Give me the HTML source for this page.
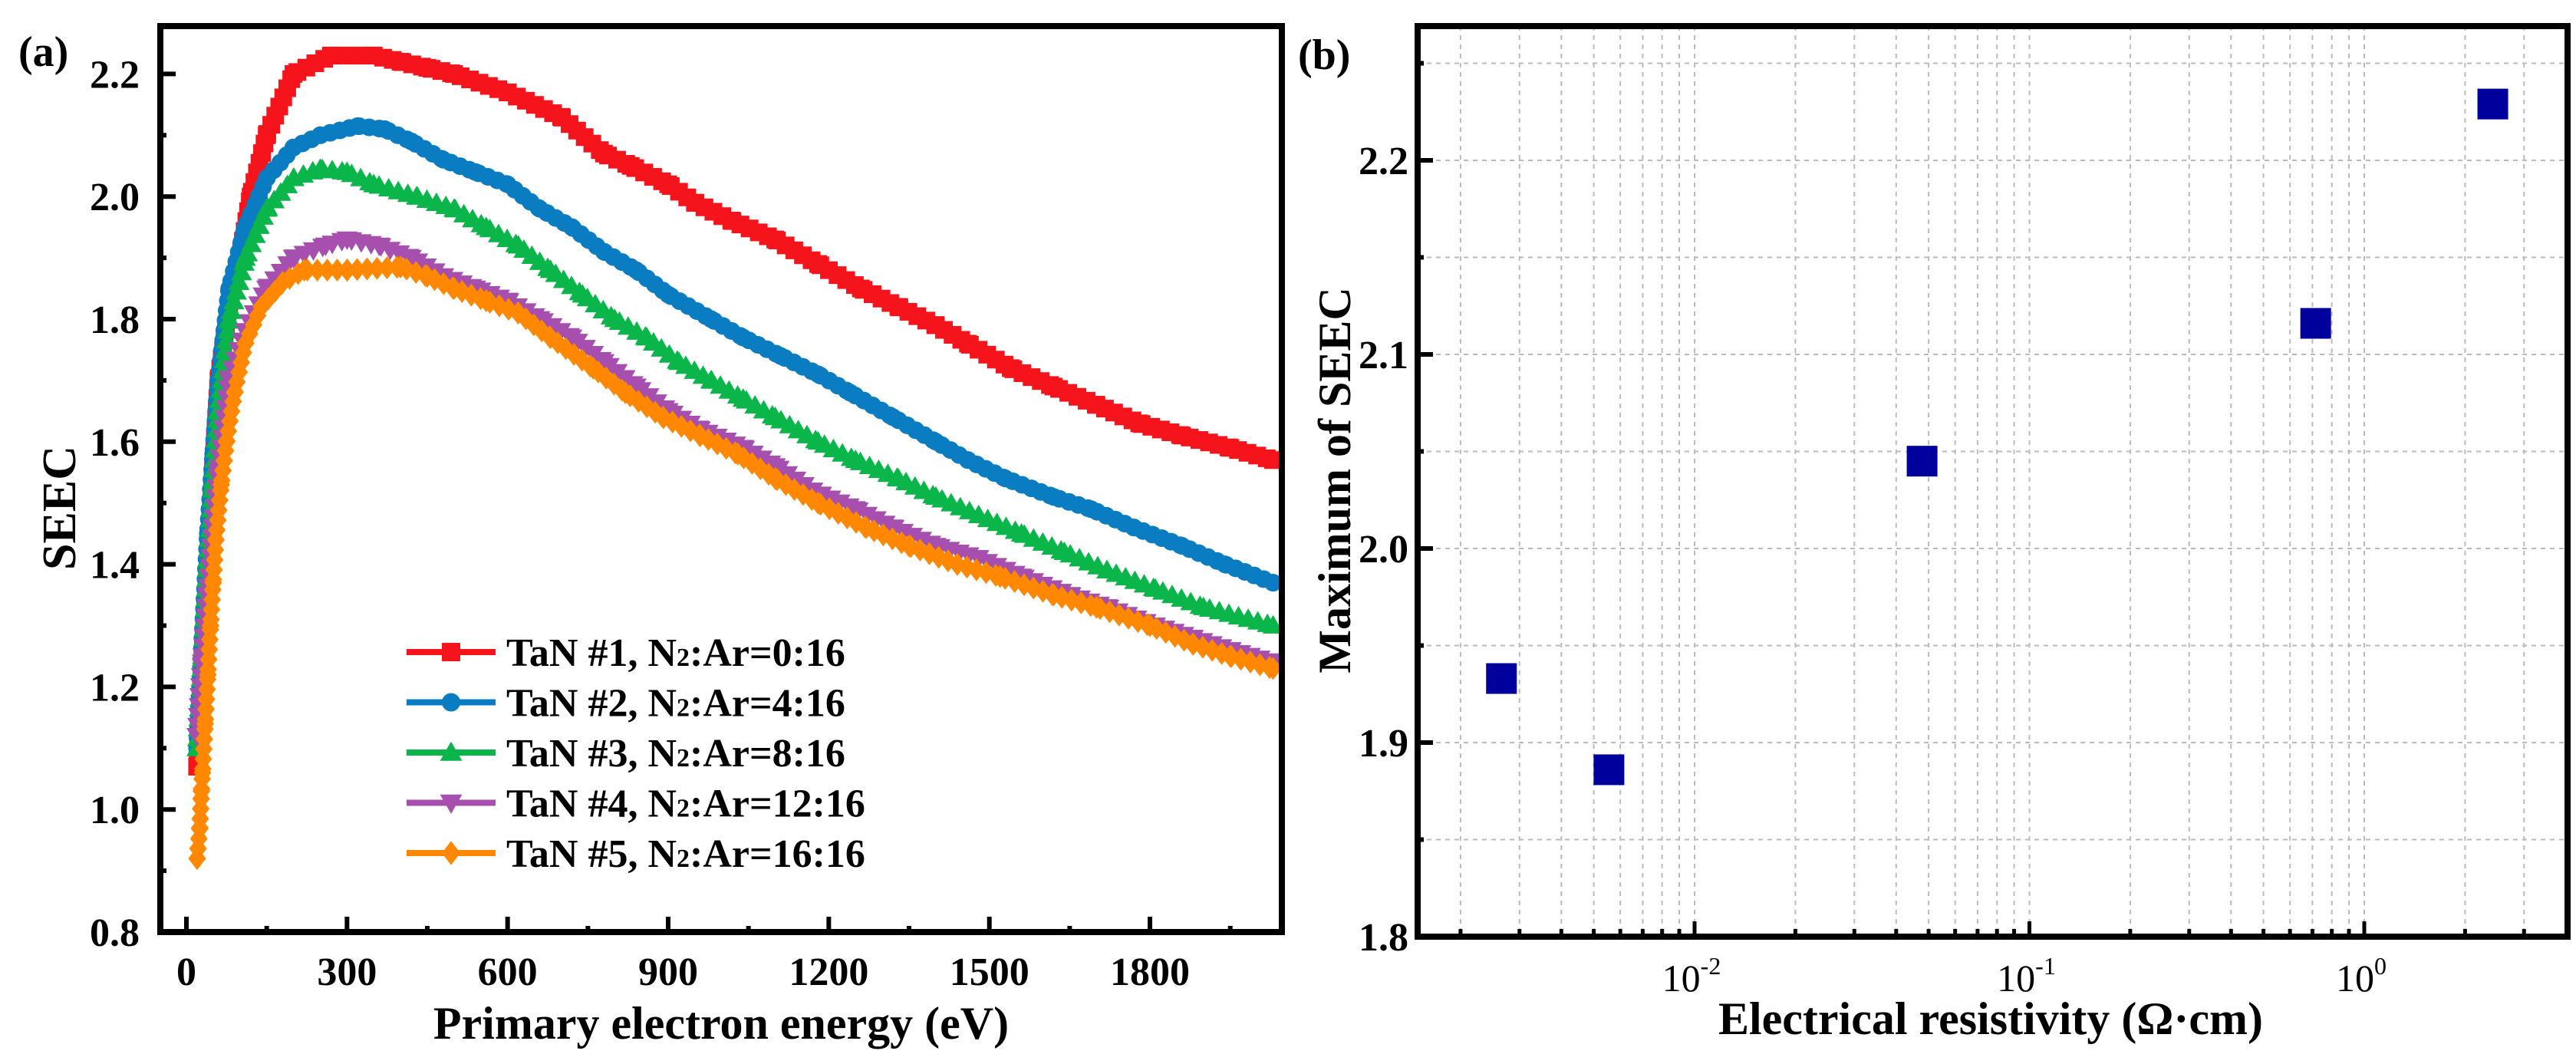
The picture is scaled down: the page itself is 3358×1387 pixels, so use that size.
<!DOCTYPE html>
<html><head><meta charset="utf-8">
<style>
html,body{margin:0;padding:0;background:#fff;}
svg{display:block;font-family:"Liberation Serif",serif;font-weight:bold;}
</style></head>
<body>
<svg id="fig" width="3358" height="1387" viewBox="0 0 3358 1387" xmlns="http://www.w3.org/2000/svg">
<g id="pa"></g>
<g id="pb"></g>
</svg>
<script>
// ---------- Panel (a) data ----------
const energyRed = [20,30,40,50,60,80,100,120,150,200,270,350,400,450,500,600,700,780,830,900,950,1020,1100,1180,1260,1330,1400,1460,1540,1620,1700,1780,1860,1950,2030];
const seecRed   = [1.07,1.25,1.4,1.56,1.7,1.82,1.9,2.0,2.1,2.2,2.23,2.23,2.22,2.21,2.2,2.17,2.13,2.07,2.05,2.02,1.99,1.96,1.93,1.89,1.85,1.82,1.79,1.76,1.72,1.69,1.66,1.63,1.61,1.59,1.57];
const energyBlue = [20,30,40,50,60,80,110,150,200,250,320,370,420,480,540,600,660,720,780,840,900,980,1040,1110,1180,1240,1320,1400,1460,1530,1620,1690,1770,1860,1940,2030];
const seecBlue   = [1.1,1.28,1.45,1.58,1.7,1.85,1.95,2.03,2.08,2.1,2.115,2.11,2.09,2.06,2.04,2.02,1.98,1.95,1.91,1.88,1.84,1.8,1.77,1.74,1.71,1.68,1.64,1.6,1.57,1.54,1.51,1.49,1.46,1.43,1.4,1.37];
const energyGreen = [20,30,40,50,60,80,110,150,200,250,300,350,430,500,560,620,680,740,800,860,920,980,1040,1100,1180,1250,1330,1400,1480,1560,1640,1720,1810,1900,2030];
const seecGreen   = [1.1,1.25,1.4,1.53,1.65,1.8,1.9,1.98,2.03,2.045,2.04,2.02,2.0,1.98,1.95,1.92,1.88,1.84,1.8,1.77,1.73,1.7,1.67,1.64,1.6,1.57,1.54,1.51,1.48,1.45,1.42,1.39,1.36,1.33,1.3];
const energyPurple = [20,30,40,50,60,80,110,150,200,260,300,360,420,480,540,600,660,720,780,840,900,960,1040,1100,1170,1250,1320,1400,1480,1560,1650,1720,1810,1880,1950,2030];
const seecPurple   = [1.12,1.24,1.35,1.46,1.55,1.7,1.78,1.85,1.9,1.92,1.93,1.92,1.9,1.87,1.85,1.83,1.8,1.77,1.73,1.69,1.65,1.62,1.59,1.56,1.52,1.49,1.46,1.43,1.41,1.38,1.35,1.33,1.3,1.28,1.26,1.24];
const energyOrange = [20,25,28,30,35,40,45,50,55,65,75,90,110,140,180,220,300,400,450,500,560,620,680,760,820,890,960,1030,1100,1180,1270,1350,1440,1520,1620,1700,1800,1880,1950,2030];
const seecOrange   = [0.92,0.97,1.03,1.06,1.14,1.22,1.3,1.37,1.44,1.53,1.6,1.68,1.76,1.82,1.86,1.88,1.88,1.885,1.87,1.85,1.83,1.81,1.77,1.72,1.68,1.64,1.61,1.58,1.54,1.5,1.46,1.43,1.4,1.38,1.35,1.33,1.3,1.27,1.25,1.23];
const seriesNames = ["TaN #1, N","TaN #2, N","TaN #3, N","TaN #4, N","TaN #5, N"];
const seriesRatios = ["0:16","4:16","8:16","12:16","16:16"];
const xTicksA = [0,300,600,900,1200,1500,1800];
const yTicksA = [0.8,1.0,1.2,1.4,1.6,1.8,2.0,2.2];

// ---------- Panel (b) data ----------
const resistivity = [0.00265,0.00555,0.0478,0.716,2.42];
const maxSeec     = [1.933,1.886,2.045,2.116,2.229];
const yTicksB = [1.8,1.9,2.0,2.1,2.2];
const xDecadesB = [-2,-1,0];

const NS="http://www.w3.org/2000/svg";
function mk(parent,tag,attrs){const e=document.createElementNS(NS,tag);for(const k in attrs)e.setAttribute(k,attrs[k]);parent.appendChild(e);return e;}

const A={l:209,r:1671,t:34,b:1215};
const xA=v=>243+v*0.6978;
const yA=v=>1215-(v-0.8)*799;
const pa=document.getElementById('pa');

const colors=["#f5141c","#0a7dc2","#0ab54a","#a64fae","#ff8800"];
const xs=[energyRed,energyBlue,energyGreen,energyPurple,energyOrange];
const ys=[seecRed,seecBlue,seecGreen,seecPurple,seecOrange];
const shapes=["square","circle","up","down","diamond"];

function marker(g,shape,cx,cy,s,color){
  let e;
  if(shape==="square") e=mk(g,'rect',{x:cx-s/2,y:cy-s/2,width:s,height:s,fill:color});
  else if(shape==="circle") e=mk(g,'circle',{cx:cx,cy:cy,r:s/2,fill:color});
  else if(shape==="up") e=mk(g,'polygon',{points:`${cx},${cy-s*0.6} ${cx-s*0.6},${cy+s*0.45} ${cx+s*0.6},${cy+s*0.45}`,fill:color});
  else if(shape==="down") e=mk(g,'polygon',{points:`${cx},${cy+s*0.6} ${cx-s*0.6},${cy-s*0.45} ${cx+s*0.6},${cy-s*0.45}`,fill:color});
  else e=mk(g,'polygon',{points:`${cx},${cy-s*0.65} ${cx+s*0.5},${cy} ${cx},${cy+s*0.65} ${cx-s*0.5},${cy}`,fill:color});
  return e;
}

const clipA=mk(mk(pa,'defs',{}),'clipPath',{id:'clipA'});
mk(clipA,'rect',{x:A.l,y:A.t,width:A.r-A.l,height:A.b-A.t});
const plotA=mk(pa,'g',{'clip-path':'url(#clipA)'});



for(let s=0;s<5;s++){
  const g=mk(plotA,'g',{});
  
  
  const pts=xs[s].map((v,i)=>[xA(v),yA(ys[s][i])]);
  const line=mk(g,'polyline',{points:pts.map(p=>p.join(',')).join(' '),fill:'none',stroke:colors[s],'stroke-width':6,'stroke-linejoin':'round'});
  
  
  const len=line.getTotalLength();
  for(let d=0;d<=len;d+=13){
    const p=line.getPointAtLength(d);
    const m=marker(g,shapes[s],p.x,p.y,23,colors[s]);
    
    
  }
  pts.forEach(p=>{
    const m=marker(g,shapes[s],p[0],p[1],23,colors[s]);
    
    
  });
}

const frA=mk(pa,'rect',{x:A.l,y:A.t,width:A.r-A.l,height:A.b-A.t,fill:'none',stroke:'#000','stroke-width':8});


for(let v=0;v<=1950;v+=150){
  const major=xTicksA.includes(v);
  const t=mk(pa,'line',{x1:xA(v),x2:xA(v),y1:A.b,y2:A.b-(major?20:8),stroke:'#000','stroke-width':6});
  
  
}
xTicksA.forEach(v=>{
  const t=mk(pa,'text',{x:xA(v),y:1284,'text-anchor':'middle','font-size':52});
  t.textContent=v;
  
  
});
for(let k=0;k<=14;k++){
  const v=0.8+k*0.1;
  const major=k%2===0;
  const t=mk(pa,'line',{x1:A.l,x2:A.l+(major?20:8),y1:yA(v),y2:yA(v),stroke:'#000','stroke-width':6});
  
  
}
yTicksA.forEach(v=>{
  const t=mk(pa,'text',{x:182,y:yA(v)+18,'text-anchor':'end','font-size':52});
  t.textContent=v.toFixed(1);
  
  
});
let tt=mk(pa,'text',{x:940,y:1354,'text-anchor':'middle','font-size':60});
tt.textContent='Primary electron energy (eV)';


tt=mk(pa,'text',{x:0,y:0,'text-anchor':'middle','font-size':62,transform:'translate(98,662) rotate(-90)'});
tt.textContent='SEEC';


tt=mk(pa,'text',{x:24,y:86,'font-size':56});
tt.textContent='(a)';



const lg=mk(pa,'g',{});


for(let s=0;s<5;s++){
  const y=850+s*65.5;
  const e=mk(lg,'g',{});
  
  
  mk(e,'line',{x1:530,x2:646,y1:y,y2:y,stroke:colors[s],'stroke-width':8});
  marker(e,shapes[s],588,y,24,colors[s]);
  const t=mk(e,'text',{x:660,y:y+18,'font-size':52});
  t.appendChild(document.createTextNode(seriesNames[s]));
  const sub=mk(t,'tspan',{'font-size':34});
  sub.textContent='2';
  t.appendChild(document.createTextNode(':Ar='+seriesRatios[s]));
}

const B={l:1848,r:3347,t:34,b:1221};
const xB=v=>2209+(Math.log10(v)+2)*436.5;
const yB=v=>1221-(v-1.8)*2530;
const pb=document.getElementById('pb');
const grid=mk(pb,'g',{});


const minorX=[];
for(let d=-3;d<=0;d++)for(let m=1;m<=9;m++){const v=m*Math.pow(10,d);if(xB(v)>B.l+5&&xB(v)<B.r-5)minorX.push(v);}
minorX.forEach(v=>{
  mk(grid,'line',{x1:xB(v),x2:xB(v),y1:B.t,y2:B.b,stroke:'#bbb','stroke-width':2,'stroke-dasharray':'6,6'});
});
for(let k=1;k<=9;k++){
  const v=1.8+k*0.05;
  mk(grid,'line',{x1:B.l,x2:B.r,y1:yB(v),y2:yB(v),stroke:'#bbb','stroke-width':2,'stroke-dasharray':'6,6'});
}
resistivity.forEach((v,i)=>{
  const r=mk(pb,'rect',{x:xB(v)-20,y:yB(maxSeec[i])-20,width:40,height:40,fill:'#00009c'});
  
  
});
const frB=mk(pb,'rect',{x:B.l,y:B.t,width:B.r-B.l,height:B.b-B.t,fill:'none',stroke:'#000','stroke-width':8});


minorX.forEach(v=>{
  const major=Math.abs(Math.log10(v)-Math.round(Math.log10(v)))<1e-6;
  const t=mk(pb,'line',{x1:xB(v),x2:xB(v),y1:B.b,y2:B.b-(major?20:10),stroke:'#000','stroke-width':5});
  
  
});
xDecadesB.forEach(d=>{
  const t=mk(pb,'text',{x:xB(Math.pow(10,d))-4,y:1292,'text-anchor':'middle','font-size':50,'font-weight':'normal'});
  t.appendChild(document.createTextNode('10'));
  const sp=mk(t,'tspan',{dy:-22,'font-size':32});
  sp.textContent=String(d);
  
  
});
for(let k=0;k<=9;k++){
  const v=1.8+k*0.05;
  const major=k%2===0;
  const t=mk(pb,'line',{x1:B.l,x2:B.l+(major?20:8),y1:yB(v),y2:yB(v),stroke:'#000','stroke-width':6});
  
  
}
yTicksB.forEach(v=>{
  const t=mk(pb,'text',{x:1836,y:yB(v)+18,'text-anchor':'end','font-size':52});
  t.textContent=v.toFixed(1);
  
  
});
tt=mk(pb,'text',{x:2595,y:1348,'text-anchor':'middle','font-size':60});
tt.textContent='Electrical resistivity (Ω·cm)';


tt=mk(pb,'text',{x:0,y:0,'text-anchor':'middle','font-size':60,transform:'translate(1760,626) rotate(-90)'});
tt.textContent='Maximum of SEEC';


tt=mk(pb,'text',{x:1692,y:90,'font-size':56});
tt.textContent='(b)';


</script>
</body></html>
